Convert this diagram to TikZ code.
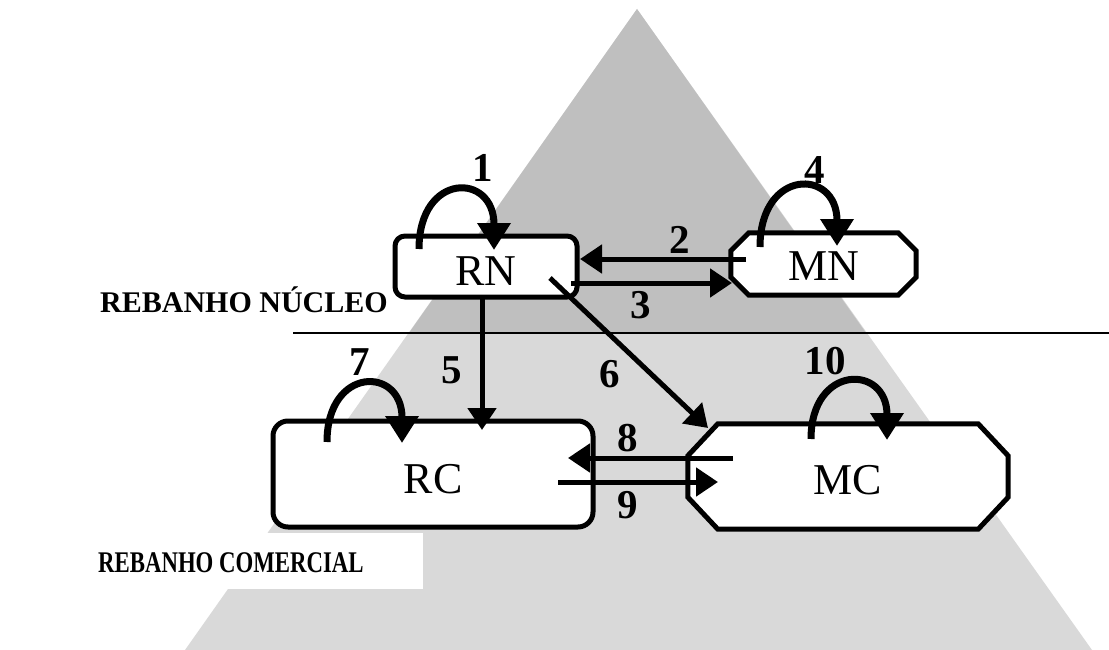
\documentclass[tikz,border=0pt]{standalone}
\usepackage{fontspec}
\setmainfont{Liberation Serif}
\usetikzlibrary{arrows.meta,calc,backgrounds}
\definecolor{pyrtop}{HTML}{BFBFBF}
\definecolor{pyrbase}{HTML}{D9D9D9}
\begin{document}
\begin{tikzpicture}[x=1pt,y=-1pt,
  roundbox/.style={draw, line width=5pt, fill=white, inner sep=0pt,
    font=\fontsize{44}{44}\selectfont},
  plainbox/.style={draw=none, inner sep=0pt, font=\fontsize{44}{44}\selectfont},
  flow/.style={line width=5pt, -{Triangle[length=22pt,width=28pt]}},
  selfloop/.style={line width=7pt, -{Triangle[length=27pt,width=32pt]}},
  num/.style={inner sep=0pt, font=\fontsize{41}{41}\selectfont\bfseries},
  zone/.style={anchor=base west, inner sep=0pt, font=\fontsize{30}{30}\selectfont\bfseries}
]
\useasboundingbox (0,0) rectangle (1109,650);

% pyramid: commercial base and nucleus tip
\begin{scope}[on background layer]
  \fill[pyrbase] (637,9) -- (185,650) -- (1092,650) -- cycle;
  \fill[pyrtop] (637,9) -- (409,333) -- (866,333) -- cycle;
  \fill[white] (0,533) rectangle (423,589);
  \draw[line width=1.8pt] (293,333) -- (1109,333);
\end{scope}

% herd labels
\node[zone] (zN) at (100,312) {REBANHO NÚCLEO};
\node[zone] (zC) at (98,572) {\scalebox{0.76}[1]{REBANHO COMERCIAL}};

% boxes
\node[roundbox, rounded corners=10pt, minimum width=182pt, minimum height=61pt,
      text height=37pt, text depth=0pt] (RN) at (486,266.5) {RN};
\node[plainbox, minimum width=185pt, minimum height=62pt,
      text height=33pt, text depth=0pt] (MN) at (823.5,264) {MN};
\node[roundbox, rounded corners=15pt, minimum width=320pt, minimum height=106pt,
      text height=39pt, text depth=0pt] (RC) at (433,474) {RC};
\node[plainbox, minimum width=320pt, minimum height=105pt,
      text height=36pt, text depth=0pt] (MC) at (848,476.5) {MC};

% chamfered outlines of the market boxes
\begin{scope}[on background layer]
  \draw[line width=5pt, fill=white]
    ($(MN.north west)+(18,0)$) -- ($(MN.north east)+(-18,0)$) -- ($(MN.north east)+(0,18)$)
    -- ($(MN.south east)+(0,-18)$) -- ($(MN.south east)+(-18,0)$) -- ($(MN.south west)+(18,0)$)
    -- ($(MN.south west)+(0,-18)$) -- ($(MN.north west)+(0,18)$) -- cycle;
  \draw[line width=5pt, fill=white]
    ($(MC.north west)+(30,0)$) -- ($(MC.north east)+(-30,0)$) -- ($(MC.north east)+(0,32)$)
    -- ($(MC.south east)+(0,-32)$) -- ($(MC.south east)+(-30,0)$) -- ($(MC.south west)+(30,0)$)
    -- ($(MC.south west)+(0,-32)$) -- ($(MC.north west)+(0,32)$) -- cycle;
\end{scope}

% connector end points
\coordinate (a2s) at (746,259);  \coordinate (a2e) at (580,259);
\coordinate (a3s) at (571,283);  \coordinate (a3e) at (732,283);
\coordinate (a5s) at (482,296);  \coordinate (a5e) at (482,430);
\coordinate (a6s) at (550,278);  \coordinate (a6e) at (708,428);
\coordinate (a8s) at (733,458);  \coordinate (a8e) at (568,458);
\coordinate (a9s) at (558,482);  \coordinate (a9e) at (718,482);
\coordinate (l1s) at (419,249);  \coordinate (l1e) at (494,250);
\coordinate (l4s) at (760,247);  \coordinate (l4e) at (837,246);
\coordinate (l7s) at (327,442);  \coordinate (l7e) at (402,443);
\coordinate (l10s) at (811,439); \coordinate (l10e) at (887,440);

% flows between herds
\draw[flow] (a2s) -- (a2e);
\draw[flow] (a3s) -- (a3e);
\draw[flow] (a5s) -- (a5e);
\draw[flow] (a6s) -- (a6e);
\draw[flow] (a8s) -- (a8e);
\draw[flow] (a9s) -- (a9e);

% flows within a herd
\draw[selfloop] (l1s) .. controls +(0,-77) and +(0,-78) .. (l1e);
\draw[selfloop] (l4s) .. controls +(0,-79) and +(0,-78) .. (l4e);
\draw[selfloop] (l7s) .. controls +(0,-76) and +(0,-77) .. (l7e);
\draw[selfloop] (l10s) .. controls +(0,-75) and +(0,-76) .. (l10e);

% flow numbers
\node[num] (n1) at (483,168) {1};
\node[num] (n2) at (680,240) {2};
\node[num] (n3) at (641,305) {3};
\node[num] (n4) at (815,170) {4};
\node[num] (n5) at (452,370) {5};
\node[num] (n6) at (610,374) {6};
\node[num] (n7) at (360,362) {7};
\node[num] (n8) at (628,438) {8};
\node[num] (n9) at (628,505) {9};
\node[num] (n10) at (825,361) {10};
\end{tikzpicture}
\end{document}
